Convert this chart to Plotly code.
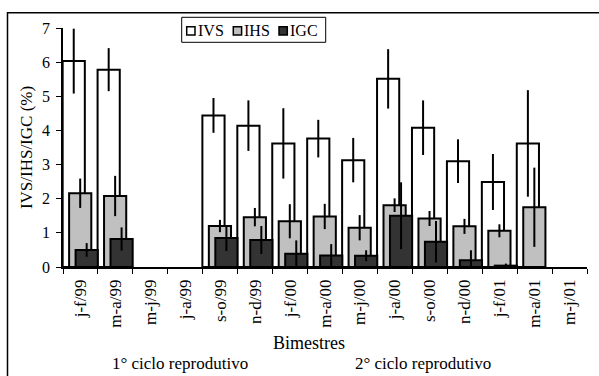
import plotly.graph_objects as go

categories = ["j-f/99", "m-a/99", "m-j/99", "j-a/99", "s-o/99", "n-d/99", "j-f/00",
              "m-a/00", "m-j/00", "j-a/00", "s-o/00", "n-d/00", "j-f/01", "m-a/01", "m-j/01"]
ivs = [6.03, 5.78, None, None, 4.44, 4.14, 3.62, 3.76, 3.13, 5.51, 4.08, 3.10, 2.49, 3.62, None]
ivs_err = [0.95, 0.63, None, None, 0.51, 0.74, 1.03, 0.55, 0.65, 0.87, 0.80, 0.64, 0.82, 1.56, None]
ihs = [2.16, 2.08, None, None, 1.20, 1.46, 1.34, 1.48, 1.15, 1.81, 1.42, 1.19, 1.06, 1.75, None]
ihs_err = [0.43, 0.59, None, None, 0.18, 0.27, 0.50, 0.37, 0.37, 0.20, 0.22, 0.22, 0.19, 1.16, None]
igc = [0.50, 0.82, None, None, 0.85, 0.79, 0.39, 0.34, 0.33, 1.50, 0.74, 0.20, 0.04, None, None]
igc_err = [0.20, 0.34, None, None, 0.38, 0.41, 0.39, 0.33, 0.16, 0.98, 0.61, 0.29, 0.06, None, None]
y_ticks = [0, 1, 2, 3, 4, 5, 6, 7]

series = [
    ("IVS", ivs, ivs_err, "#ffffff", -0.51),
    ("IHS", ihs, ihs_err, "#c0c0c0", -0.325),
    ("IGC", igc, igc_err, "#333333", -0.14),
]

FONT = "'Liberation Serif', 'Times New Roman', serif"
fig = go.Figure()
for name, vals, errs, color, off in series:
    fig.add_trace(go.Bar(
        name=name, x=categories, y=vals,
        width=0.635, offset=off,
        marker=dict(color=color, line=dict(color="black", width=2)),
        error_y=dict(type="data", array=errs, visible=True, color="black",
                     thickness=2, width=0),
        showlegend=False,
    ))

W, H = 599, 376
L, R, T, B = 63, 12, 28, 109
pw, ph = W - L - R, H - T - B

def px(x):
    return (x - L) / pw

def py(y):
    return (H - B - y) / ph

shapes = [
    dict(type="rect", xref="paper", yref="paper", x0=px(7.5), x1=px(605), y0=py(385), y1=py(12.7),
         line=dict(color="black", width=1.5), fillcolor="rgba(0,0,0,0)", layer="below"),
    dict(type="rect", xref="paper", yref="paper", x0=px(181.7), x1=px(325.7), y0=py(42.3), y1=py(17.3),
         line=dict(color="black", width=1), fillcolor="white"),
]
annotations = []
leg_items = [("IVS", "#ffffff", 186.7), ("IHS", "#c0c0c0", 233.3), ("IGC", "#333333", 279.0)]
for name, color, x0 in leg_items:
    shapes.append(dict(type="rect", xref="paper", yref="paper", x0=px(x0), x1=px(x0 + 8.3),
                       y0=py(35), y1=py(26.7), line=dict(color="black", width=1.5), fillcolor=color))
    annotations.append(dict(text=name, xref="paper", yref="paper", x=px(x0 + 9.0), y=py(31),
                            xanchor="left", yanchor="middle", showarrow=False,
                            font=dict(family=FONT, size=16, color="black")))

annotations += [
    dict(text="Bimestres", xref="paper", yref="paper", x=px(309), y=py(343), xanchor="center",
         yanchor="middle", showarrow=False, font=dict(family=FONT, size=18, color="black")),
    dict(text="1° ciclo reprodutivo", xref="paper", yref="paper", x=px(180), y=py(363), xanchor="center",
         yanchor="middle", showarrow=False, font=dict(family=FONT, size=17, color="black")),
    dict(text="2° ciclo reprodutivo", xref="paper", yref="paper", x=px(423), y=py(363), xanchor="center",
         yanchor="middle", showarrow=False, font=dict(family=FONT, size=17, color="black")),
]

fig.update_layout(
    width=W, height=H,
    margin=dict(l=L, r=R, t=T, b=B, pad=0),
    paper_bgcolor="white", plot_bgcolor="white",
    barmode="overlay",
    font=dict(family=FONT, color="black"),
    shapes=shapes, annotations=annotations,
    xaxis=dict(type="category", range=[-0.5, 14.5], tickson="boundaries", ticks="outside",
               ticklen=5, tickwidth=1, tickcolor="black", showline=True, linecolor="black",
               linewidth=1.5, tickangle=-90, tickfont=dict(family=FONT, size=17),
               ticklabelstandoff=4, showgrid=False, zeroline=False),
    yaxis=dict(range=[0, 7], tickvals=y_ticks, ticks="outside", ticklen=5, tickcolor="black",
               showline=True, linecolor="black", linewidth=1.5, showgrid=False, zeroline=False,
               tickfont=dict(family=FONT, size=16), ticklabelstandoff=3,
               title=dict(text="IVS/IHS/IGC (%)", font=dict(family=FONT, size=17), standoff=5)),
)

fig.write_html("out.html", config={"displayModeBar": False},
               post_script="document.body.style.margin='0';")
